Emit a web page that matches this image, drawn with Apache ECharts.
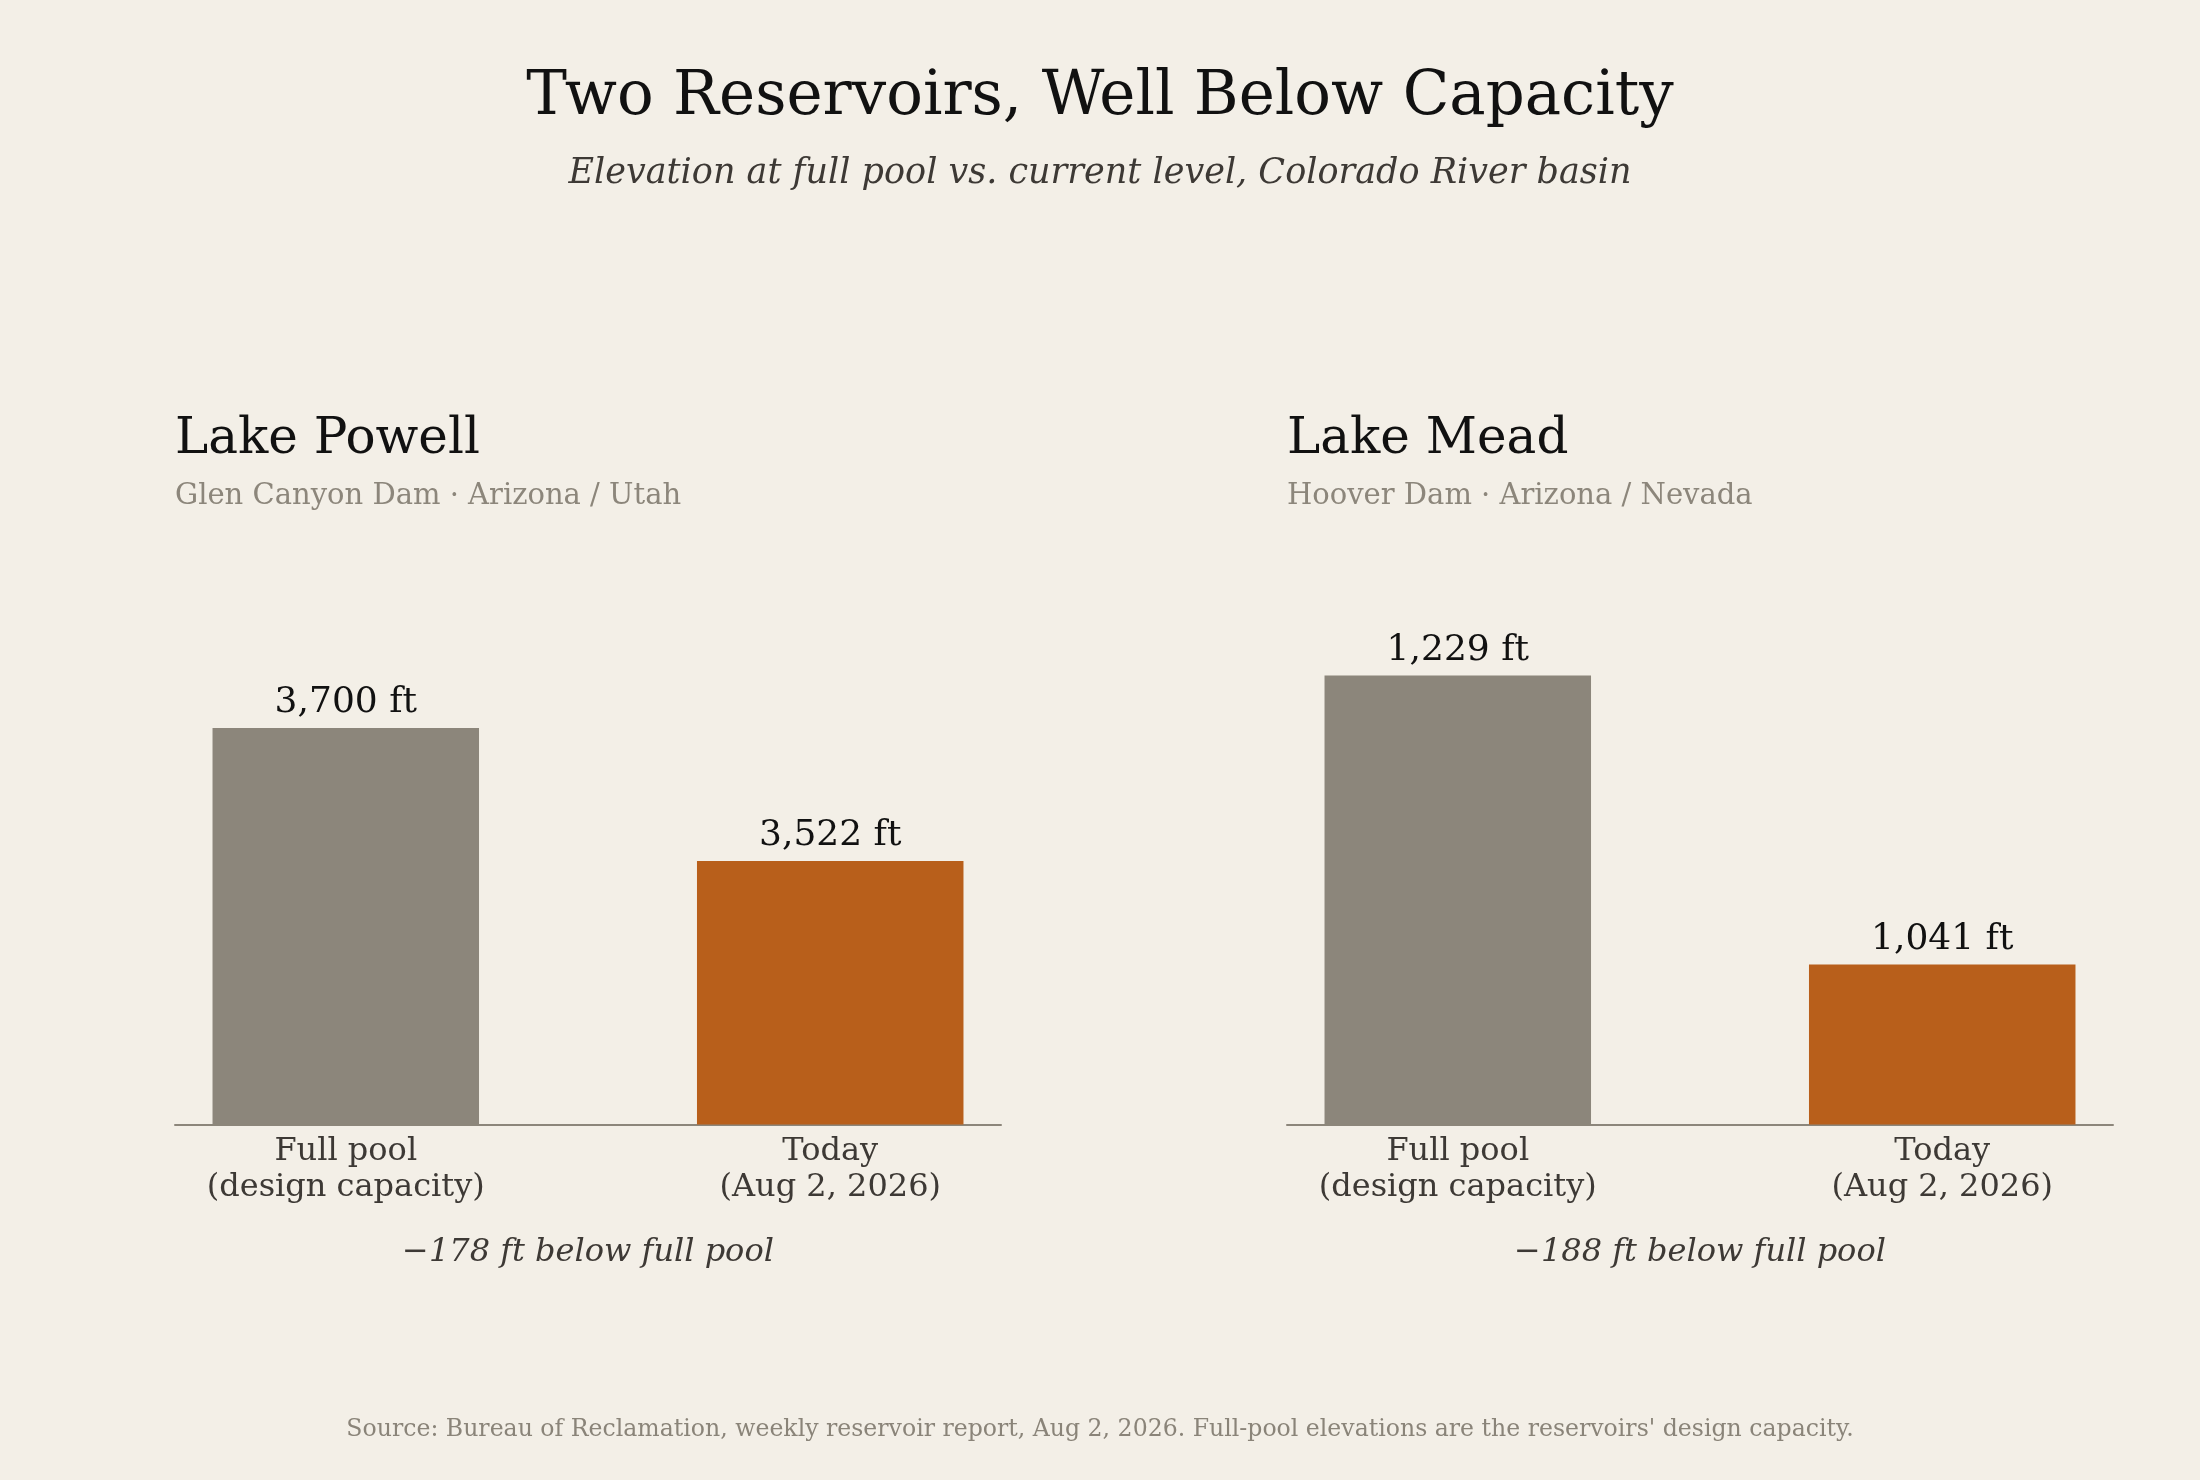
<!DOCTYPE html>
<html>
<head>
<meta charset="utf-8">
<title>Two Reservoirs, Well Below Capacity</title>
<script src="https://cdn.jsdelivr.net/npm/echarts@6/dist/echarts.min.js"></script>
<style>
  html, body { margin: 0; padding: 0; background: #f3efe7; }
  #chart { width: 2200px; height: 1480px; }
</style>
</head>
<body>
<div id="chart"></div>
<script>
// data
const categories = ['Full pool\n(design capacity)', 'Today\n(Aug 2, 2026)'];
const lakeNames = ['Lake Powell', 'Lake Mead'];
const damNotes = ['Glen Canyon Dam · Arizona / Utah', 'Hoover Dam · Arizona / Nevada'];
const fullPool = [3700, 1229];
const today = [3522, 1041];

const SERIF = '"DejaVu Serif", "Liberation Serif", serif';
const GREY = '#8c867b';
const ORANGE = '#b85f1b';

// panel placement (px)
const panelLeft = [175, 1287];
const panelWidth = 826;
const plotTop = 562;
const plotHeight = 562.5;

const fmt = (v) => v.toLocaleString('en-US');

function centered(text, x, y, font, fill) {
  return {
    type: 'text',
    style: {
      text: text, x: x, y: y, font: font, fill: fill,
      align: 'center', verticalAlign: 'middle', textAlign: 'center', textVerticalAlign: 'middle'
    }
  };
}

function leftText(text, x, y, font, fill) {
  return {
    type: 'text',
    style: {
      text: text, x: x, y: y, font: font, fill: fill,
      align: 'left', verticalAlign: 'middle', textAlign: 'left', textVerticalAlign: 'middle'
    }
  };
}

var grids = [], xAxes = [], yAxes = [], series = [], texts = [];

for (var i = 0; i < lakeNames.length; i++) {
  grids.push({ left: panelLeft[i], top: plotTop, width: panelWidth, height: plotHeight });
  xAxes.push({
    type: 'value', gridIndex: i, min: -0.3525, max: 1.3525,
    splitLine: { show: false },
    axisTick: { show: false },
    axisLine: { show: true, lineStyle: { color: GREY, width: 2 } },
    axisLabel: {
      customValues: [0, 1],
      formatter: function (v) { return categories[Math.round(v)]; },
      color: '#3d3935', fontFamily: SERIF, fontSize: 32, lineHeight: 36, margin: 9
    }
  });
  // matplotlib-style limits: 90% of today's level up to 106% of full pool
  yAxes.push({ type: 'value', gridIndex: i, show: false, min: today[i] * 0.9, max: fullPool[i] * 1.06 });
  series.push({
    type: 'bar', xAxisIndex: i, yAxisIndex: i, barWidth: 266.5,
    data: [
      { value: [0, fullPool[i]], itemStyle: { color: GREY } },
      { value: [1, today[i]], itemStyle: { color: ORANGE } }
    ],
    label: {
      show: true, position: 'top', distance: 7,
      formatter: function (p) { return fmt(p.value[1]) + ' ft'; },
      color: '#111111', fontFamily: SERIF, fontSize: 36
    },
    emphasis: { disabled: true },
    silent: true
  });
  texts.push(leftText(lakeNames[i], panelLeft[i], 440, '50px ' + SERIF, '#111111'));
  texts.push(leftText(damNotes[i], panelLeft[i], 496, '29px ' + SERIF, '#8c867b'));
  texts.push(centered('\u2212' + (fullPool[i] - today[i]) + ' ft below full pool',
    panelLeft[i] + panelWidth / 2, 1253, 'italic 32px ' + SERIF, '#3d3935'));
}

texts.push(centered('Two Reservoirs, Well Below Capacity', 1100, 98, '61px ' + SERIF, '#111111'));
texts.push(centered('Elevation at full pool vs. current level, Colorado River basin', 1100, 174,
  'italic 35px ' + SERIF, '#3d3935'));
texts.push(centered("Source: Bureau of Reclamation, weekly reservoir report, Aug 2, 2026. Full-pool elevations are the reservoirs' design capacity.",
  1100, 1430, '23.6px ' + SERIF, '#8a8479'));

var chart = echarts.init(document.getElementById('chart'), null, { renderer: 'canvas' });
chart.setOption({
  backgroundColor: '#f3efe7',
  animation: false,
  grid: grids,
  xAxis: xAxes,
  yAxis: yAxes,
  series: series,
  graphic: texts
});
</script>
</body>
</html>
